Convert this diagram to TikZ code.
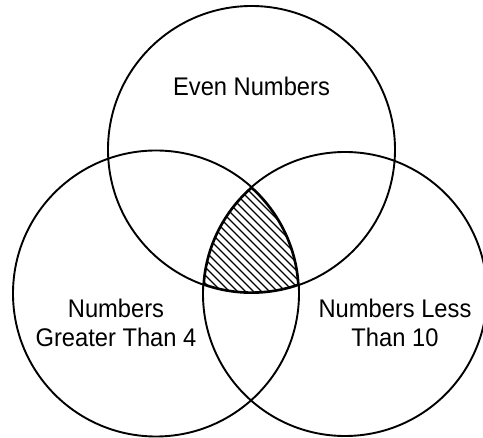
\documentclass[tikz,border=0pt]{standalone}
\usepackage{fontspec}
\setmainfont[FakeStretch=0.93]{Liberation Sans}
\begin{document}
\begin{tikzpicture}[x=1pt,y=-1pt,
  setcircle/.style={circle, draw=black, line width=1.9pt, inner sep=0pt},
  lbl/.style={font=\fontsize{25.5}{29}\selectfont, align=center, inner sep=0pt},
  hatchline/.style={line width=1.2pt}]
\useasboundingbox (0,0) rectangle (483,438);
\coordinate (cT) at (251.5,149.5);
\coordinate (cL) at (156,293.5);
\coordinate (cR) at (345,294);
% hatched intersection
\begin{scope}
  \clip (cT) circle (143.5);
  \clip (cL) circle (143);
  \clip (cR) circle (142);
  \foreach \k in {-40,...,40} {
    \draw[hatchline] (\k*8+250-160,240-160) -- ++(320,320);
  }
  \draw[line width=3.4pt] (cT) circle (143.5);
  \draw[line width=3.4pt] (cL) circle (143);
  \draw[line width=3.4pt] (cR) circle (142);
\end{scope}
\node[setcircle, minimum size=287pt] (even) at (cT) {};
\node[setcircle, minimum size=286pt] (gt4) at (cL) {};
\node[setcircle, minimum size=284pt] (lt10) at (cR) {};
\node[lbl, anchor=base] (evenlbl) at (251.5,96) {Even Numbers};
\node[lbl, anchor=base] (gt4lbl) at (116,347) {Numbers\\Greater Than 4};
\node[lbl, anchor=base] (lt10lbl) at (395,347) {Numbers Less\\Than 10};
\end{tikzpicture}
\end{document}
